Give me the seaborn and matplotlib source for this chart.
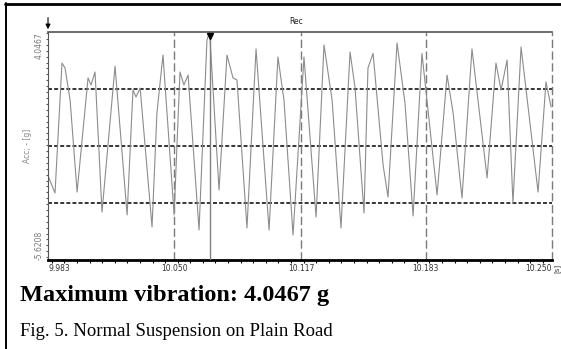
import numpy as np
import pandas as pd
import matplotlib.pyplot as plt
import seaborn as sb
from matplotlib.lines import Line2D
from matplotlib.ticker import MultipleLocator

# acceleration trace, peaks / troughs / shoulders
sig_time = [9.9835, 9.9867, 9.9904, 9.9920, 9.9947, 9.9984, 10.0042, 10.0058, 10.0079,
            10.0116, 10.0185, 10.0249, 10.0280, 10.0296, 10.0318, 10.0381, 10.0407,
            10.0439, 10.0498, 10.0529, 10.0550, 10.0572, 10.0630, 10.0672, 10.0686,
            10.0736, 10.0778, 10.0810, 10.0831, 10.0884, 10.0932, 10.1001, 10.1048,
            10.1080, 10.1128, 10.1186, 10.1250, 10.1292, 10.1335, 10.1382, 10.1430,
            10.1456, 10.1504, 10.1525, 10.1552, 10.1605, 10.1631, 10.1679, 10.1721,
            10.1764, 10.1811, 10.1891, 10.1944, 10.1976, 10.2023, 10.2076, 10.2156,
            10.2203, 10.2230, 10.2262, 10.2293, 10.2336, 10.2426, 10.2468, 10.2495]
sig_acc = [-2.14, -2.78, 2.73, 2.52, 1.16, -2.74, 2.10, 1.80, 2.35,
           -3.59, 2.60, -3.71, 1.59, 1.29, 1.67, -4.22, 0.61,
           3.07, -3.71, 2.35, 1.80, 2.22, -4.35, 3.71, 4.0467,
           -2.65, 3.07, 2.10, 2.01, -4.26, 3.33, -4.35, 2.99,
           1.16, -4.56, 2.99, -3.80, 3.50, 1.16, -4.26, 3.20,
           1.71, -3.63, 2.52, 3.14, -1.59, -2.95, 3.58, 1.04,
           -3.75, 3.14, -2.86, 2.22, 0.61, -2.99, 3.33, -2.14,
           2.73, 1.59, 2.86, -3.20, 3.41, -2.74, 1.93, 0.87]

x_ticks = [9.983, 10.050, 10.117, 10.183, 10.250]
x_labels = ['9.983', '10.050', '10.117', '10.183', '10.250']
y_min, y_max = -5.6208, 4.0467
cursor_t = 10.0686

df = pd.DataFrame({'t': sig_time, 'acc': sig_acc})

sb.set_style('white')
narrow = ['Liberation Sans Narrow', 'DejaVu Sans']

fig = plt.figure(figsize=(5.61, 3.49), dpi=100)
ax = fig.add_axes([0.0856, 0.2550, 0.8984, 0.6533])

sb.lineplot(data=df, x='t', y='acc', ax=ax, color='#8c8c8c', lw=0.8, estimator=None)

ax.set_xlim(x_ticks[0], x_ticks[-1])
ax.set_ylim(y_min, y_max)

# horizontal dashed guides at quarter heights
for k in (1, 2, 3):
    ax.axhline(y_min + k * (y_max - y_min) / 4, color='black', lw=1.1,
               ls=(0, (2.6, 1.4)), zorder=1)
# vertical dashed guides
for xt in x_ticks[1:]:
    ax.axvline(xt, color='#7a7a7a', lw=1.0, ls=(0, (6, 2.5)), clip_on=False, zorder=1)

# cursor at the max
ax.axvline(cursor_t, color='#808080', lw=1.0, zorder=3)
ax.plot([cursor_t], [y_max - 0.18], marker='v', color='black', ms=5, clip_on=False, zorder=4)
ax.annotate('', xy=(0, 1.0), xycoords='axes fraction', xytext=(0, 1.075),
            arrowprops=dict(arrowstyle='-|>', color='black', lw=0.8, mutation_scale=7))
ax.text(0.492, 1.025, 'Rec', transform=ax.transAxes, ha='center', va='bottom',
        fontsize=5.5, family=narrow, color='#222222')

# axes frame
ax.spines['right'].set_visible(False)
ax.spines['bottom'].set_color('black')
ax.spines['bottom'].set_linewidth(2.0)
ax.spines['left'].set_color('#555555')
ax.spines['left'].set_linewidth(0.8)
ax.spines['top'].set_color('#555555')
ax.spines['top'].set_linewidth(1.2)

ax.set_xticks(x_ticks)
ax.set_xticklabels(x_labels, fontsize=5.5, family=narrow, color='#333333')
xl = ax.get_xticklabels()
xl[0].set_ha('left')
xl[-1].set_ha('right')
ax.xaxis.set_minor_locator(MultipleLocator(0.00667))
ax.tick_params(axis='x', which='major', length=0, pad=3)
ax.tick_params(axis='x', which='minor', length=2.5, width=0.8, color='black', direction='out', bottom=True)

ax.set_yticks([y_min, y_max])
ax.set_yticklabels(['-5.6208', '4.0467'], rotation=90, fontsize=5.5, family=narrow, color='#777777')
yl = ax.get_yticklabels()
yl[0].set_va('bottom')
yl[1].set_va('top')
ax.yaxis.set_minor_locator(MultipleLocator(0.25))
ax.tick_params(axis='y', which='major', length=0, pad=3)
ax.tick_params(axis='y', which='minor', length=1.5, width=0.8, color='#555555', direction='out', left=True)

ax.set_xlabel('')
ax.set_ylabel('Acc; - [g]', fontsize=5.5, family=narrow, color='#888888', labelpad=2)
ax.text(1.004, -0.035, '[s]', transform=ax.transAxes, rotation=90, ha='left', va='center',
        fontsize=5, family=narrow, color='#333333')

# page frame lines
fig.add_artist(Line2D([0.009, 1.0], [0.989, 0.989], color='black', lw=2.0))
fig.add_artist(Line2D([0.010, 0.010], [0.0, 0.992], color='black', lw=1.4))

fig.text(0.036, 0.1375, 'Maximum vibration: 4.0467 g', fontsize=17.5, fontweight='bold',
         family='Liberation Serif', va='baseline', ha='left', color='black')
fig.text(0.036, 0.037, 'Fig. 5. Normal Suspension on Plain Road', fontsize=13.5,
         family='Liberation Serif', va='baseline', ha='left', color='black')

plt.savefig('out.png', dpi=100)
